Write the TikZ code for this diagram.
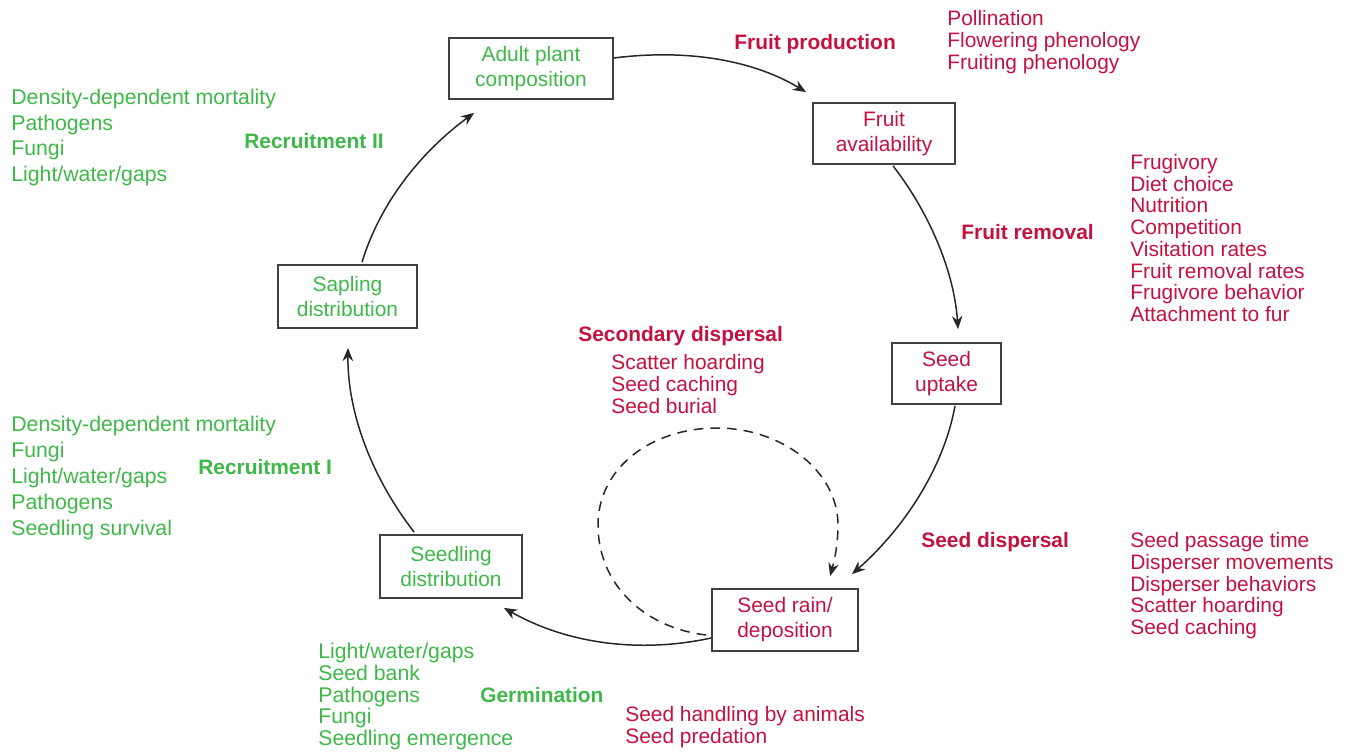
\documentclass[tikz,border=0pt]{standalone}
\usepackage{fontspec}
\setmainfont{Liberation Sans}
\usetikzlibrary{arrows.meta,calc}
\definecolor{cred}{RGB}{196,18,64}
\definecolor{cgreen}{RGB}{62,184,72}
\begin{document}
\begin{tikzpicture}[x=0.02cm,y=-0.02cm,
  every node/.style={inner sep=0pt, font=\fontsize{11.9}{14.2}\selectfont},
  stagebox/.style={draw=black!75, line width=1pt, align=center, inner sep=0pt},
  redtxt/.style={text=cred},
  greentxt/.style={text=cgreen},
  lbl/.style={anchor=base west},
  glbl/.style={anchor=base west, font=\fontsize{12.1}{14.2}\selectfont},
  head/.style={anchor=base west, font=\fontsize{11.9}{14.2}\selectfont\bfseries},
  flow/.style={draw=black!85, line width=0.85pt, -{Stealth[length=7.5pt,width=6pt]}},
  dflow/.style={flow, dash pattern=on 5.5pt off 4pt}]
\useasboundingbox (0,0) rectangle (1352,751);

% stage boxes
\node[stagebox, greentxt, minimum width=3.28cm, minimum height=1.22cm] (adult) at (531,68.5) {Adult plant\\composition};
\node[stagebox, redtxt, minimum width=2.84cm, minimum height=1.22cm] (fruit) at (884,133.5) {Fruit\\availability};
\node[stagebox, redtxt, minimum width=2.18cm, minimum height=1.22cm] (uptake) at (946.5,373.5) {Seed\\uptake};
\node[stagebox, redtxt, minimum width=2.92cm, minimum height=1.24cm] (rain) at (785,620) {Seed rain/\\deposition};
\node[stagebox, greentxt, minimum width=2.84cm, minimum height=1.26cm] (seedling) at (451,566.5) {Seedling\\distribution};
\node[stagebox, greentxt, minimum width=2.78cm, minimum height=1.26cm] (sapling) at (347.5,296.5) {Sapling\\distribution};

% cycle arrows
\draw[flow] ($(adult.east)+(0,-10.5)$) .. controls (680.5,49.5) and (749,57.6) .. ($(fruit.north west)+(-6,-10)$);
\draw[flow] ($(fruit.south)+(9,1)$) .. controls (928.8,211.9) and (954.2,271.1) .. ($(uptake.north)+(11.5,-13)$);
\draw[flow] ($(uptake.south)+(8.5,1)$) .. controls (943.2,470.6) and (901.6,530.4) .. ($(rain.north)+(67,-14)$);
\draw[flow] ($(rain.west)+(0,18)$) .. controls (639.6,653.5) and (567.2,643.8) .. ($(seedling.south east)+(-19,9)$);
\draw[flow] ($(seedling.north west)+(35,-2)$) .. controls (373.4,479.6) and (347.3,414.7) .. ($(sapling.south)+(0.5,19)$);
\draw[flow] ($(sapling.north)+(14.5,-2)$) .. controls (380.7,201) and (422.8,150.4) .. ($(adult.south west)+(26,13)$);

% secondary dispersal loop
\draw[dflow] ($(rain.west)+(-5,15)$) .. controls (645,628) and (598,585) .. (598,525)
  .. controls (598,468) and (651,428) .. (717,428)
  .. controls (783,428) and (838,472) .. (838,525)
  .. controls (838,545) and (834,562) .. ($(rain.north)+(45,-12)$);

% red labels
\node[head, redtxt] (fprod) at (734,49.5) {Fruit production};
\foreach \t [count=\i from 0] in {Pollination, Flowering phenology, Fruiting phenology}
  \node[lbl, redtxt] (poll\i) at (947,25.5+22*\i) {\t};
\node[head, redtxt] (fremov) at (961,239.5) {Fruit removal};
\foreach \t [count=\i from 0] in {Frugivory, Diet choice, Nutrition, Competition, Visitation rates, Fruit removal rates, Frugivore behavior, Attachment to fur}
  \node[lbl, redtxt] (frug\i) at (1130,169.5+21.7*\i) {\t};
\node[head, redtxt] (secd) at (578,341.5) {Secondary dispersal};
\foreach \t [count=\i from 0] in {Scatter hoarding, Seed caching, Seed burial}
  \node[lbl, redtxt] (scat\i) at (611,369.5+22*\i) {\t};
\node[head, redtxt] (sdisp) at (921,547.5) {Seed dispersal};
\foreach \t [count=\i from 0] in {Seed passage time, Disperser movements, Disperser behaviors, Scatter hoarding, Seed caching}
  \node[lbl, redtxt] (pass\i) at (1130,547.5+21.75*\i) {\t};
\foreach \t [count=\i from 0] in {Seed handling by animals, Seed predation}
  \node[lbl, redtxt] (hand\i) at (625,721.5+22*\i) {\t};

% green labels
\node[head, greentxt] (rec2) at (244,148.5) {Recruitment II};
\foreach \t [count=\i from 0] in {Density-dependent mortality, Pathogens, Fungi, Light/water/gaps}
  \node[glbl, greentxt] (rtwo\i) at (11,104.5+25.7*\i) {\t};
\node[head, greentxt] (rec1) at (198,474.5) {Recruitment I};
\foreach \t [count=\i from 0] in {Density-dependent mortality, Fungi, Light/water/gaps, Pathogens, Seedling survival}
  \node[glbl, greentxt] (rone\i) at (11,431.5+26*\i) {\t};
\node[head, greentxt] (germ) at (480,702.5) {Germination};
\foreach \t [count=\i from 0] in {Light/water/gaps, Seed bank, Pathogens, Fungi, Seedling emergence}
  \node[glbl, greentxt] (gl\i) at (318,658.5+21.75*\i) {\t};
\end{tikzpicture}
\end{document}
